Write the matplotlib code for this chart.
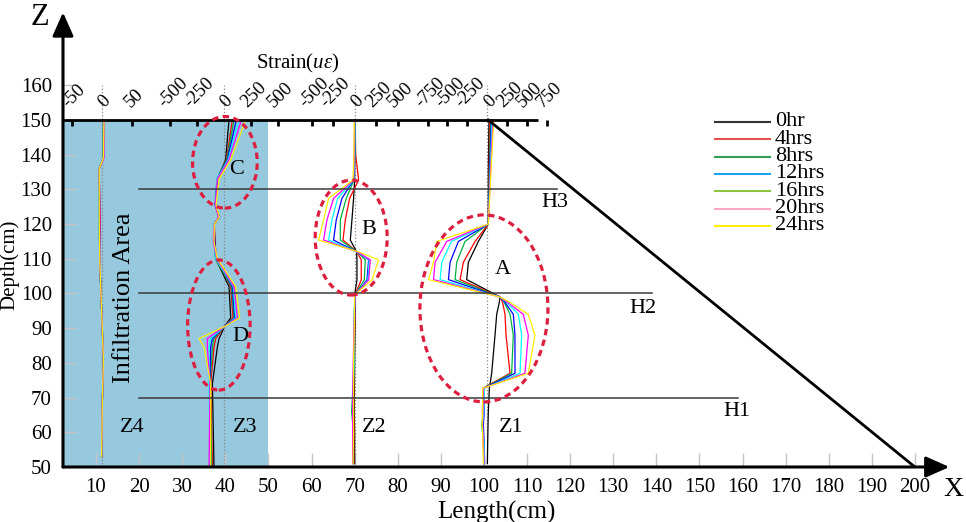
import matplotlib
matplotlib.use("Agg")
import matplotlib.pyplot as plt
import numpy as np
from matplotlib.lines import Line2D
from matplotlib.patches import Ellipse, Rectangle

plt.rcParams.update(
    {
        "font.family": "serif",
        "font.serif": ["Liberation Serif", "DejaVu Serif"],
        "mathtext.fontset": "custom",
        "mathtext.rm": "Liberation Serif",
        "mathtext.it": "Liberation Serif:italic",
    }
)

TIME_LABELS = ["0hr", "4hrs", "8hrs", "12hrs", "16hrs", "20hrs", "24hrs"]
CURVE_COLORS = ["black", "red", "#00b040", "blue", "cyan", "magenta", "#ffee00"]
LEGEND_COLORS = ["#333333", "#e8534b", "#2e9e57", "#1aa3e8", "#8cc63f", "#ffa6c9", "#ffee00"]

# depth (cm) of the sensing points, one list per column
Z4_DEPTH = [150, 139, 136, 122, 109, 95, 81, 67, 53]
Z3_DEPTH = [150, 138.5, 133, 125.5, 122, 120, 115, 110, 102, 93, 90.4, 87, 84.5, 74, 50]
Z2_DEPTH = [150, 140, 132.7, 127.4, 121.2, 115.4, 112, 109.7, 103.9, 99.6, 90, 80, 66, 60, 51]
Z1_DEPTH = [150, 135, 120, 115, 109, 104, 99, 97.5, 94, 88, 77, 72.7, 66, 62, 57, 51]

# strain (micro-strain), rows = 0hr .. 24hrs
Z4_STRAIN = [
    [3, 3, -4, -3, -3, 0, 3, 1, 0],
    [3, 3, -4, -3, -3, 0, 3, 1, 0],
    [3, 3, -4, -4, -3, 0, 3, 1, 0],
    [4, 3, -4, -4, -3, 0, 3, 1, 0],
    [3, 3, -4, -4, -3, 0, 3, 1, 0],
    [4, 4, -4, -3, -3, 0, 3, 1, 0],
    [4, 3, -4, -4, -3, 0, 3, 1, 0],
]
Z3_STRAIN = [
    [46, 15, -62, -77, -46, -93, -86, -77, 46, 62, 3, -46, -62, -108, -93],
    [77, 22, -62, -80, -50, -90, -83, -74, 62, 83, 0, -77, -93, -124, -108],
    [93, 25, -65, -77, -46, -96, -90, -80, 68, 93, -3, -93, -108, -130, -115],
    [114, 31, -65, -83, -40, -93, -86, -71, 77, 99, 0, -108, -124, -133, -124],
    [139, 37, -68, -77, -46, -99, -93, -77, 86, 108, 3, -124, -139, -139, -130],
    [161, 46, -62, -80, -50, -93, -99, -68, 93, 124, 0, -155, -155, -130, -139],
    [201, 62, -46, -74, -43, -90, -93, -62, 108, 145, 0, -232, -185, -124, -124],
]
Z2_STRAIN = [
    [0, 0, 0, -12, -31, -50, 23, 27, 27, 0, 4, 0, -4, 0, 0],
    [6, 12, 46, -58, -108, -135, 27, 77, 77, 4, 0, -8, -12, -8, -8],
    [4, 6, -8, -97, -166, -166, 27, 124, 112, 4, -8, -4, -35, -12, -12],
    [2, 2, -12, -147, -213, -244, 27, 163, 143, 8, -4, -12, -16, -16, -16],
    [4, 0, -10, -197, -263, -302, 27, 170, 155, 4, -12, -8, -20, -20, -20],
    [0, -4, -12, -244, -321, -360, 31, 182, 163, 4, -8, -16, -23, -23, -23],
    [-4, -8, -19, -302, -360, -418, 46, 279, 201, 0, -4, -12, -12, -12, -19],
]
Z1_STRAIN = [
    [20, 12, 12, -113, -238, -259, 158, 150, 117, 96, 54, 25, 12, 8, 4, 0],
    [30, 20, 12, -154, -300, -342, 158, 190, 221, 234, 284, -55, -62, -58, -50, -45],
    [40, 25, 12, -280, -384, -405, 158, 210, 284, 325, 304, -50, -50, -70, -45, -40],
    [50, 30, 12, -363, -467, -488, 158, 220, 325, 346, 346, -45, -40, -50, -40, -35],
    [60, 35, 12, -450, -571, -592, 158, 240, 388, 430, 409, -40, -45, -62, -42, -38],
    [70, 40, 12, -509, -655, -675, 158, 250, 450, 513, 471, -50, -55, -60, -50, -42],
    [80, 45, 12, -634, -675, -738, 158, 280, 513, 596, 513, -58, -60, -65, -55, -50],
]

# column zero position (cm), micro-strain per cm of length, top-axis tick values
COLUMNS = [
    ("Z4", 11.3, 7.2, Z4_DEPTH, Z4_STRAIN, [-50, 0, 50]),
    ("Z3", 39.7, 40.0, Z3_DEPTH, Z3_STRAIN, [-500, -250, 0, 250, 500]),
    ("Z2", 70.0, 50.0, Z2_DEPTH, Z2_STRAIN, [-500, -250, 0, 250, 500]),
    ("Z1", 100.8, 54.0, Z1_DEPTH, Z1_STRAIN, [-750, -500, -250, 0, 250, 500, 750]),
]

# horizontal reference lines: name, depth, end x, label position
H_LINES = [("H3", 130, 117, (116.5, 126.1)), ("H2", 100, 139, (136.9, 95.8)), ("H1", 70, 159, (158.7, 66.1))]
# dashed ellipses: label, centre, width, height, label position
ZONES = [
    ("A", (100.0, 95.7), 29.7, 53.9, (104.5, 106.8)),
    ("B", (69.2, 116.1), 16.7, 33.1, (73.4, 118.3)),
    ("C", (39.9, 137.8), 15.0, 26.4, (42.6, 135.6)),
    ("D", (38.5, 90.9), 14.5, 37.5, (43.4, 87.6)),
]

XMIN, XMAX, YMIN, YMAX = 2.34, 208, 50, 181
W, H = 966, 522

fig = plt.figure(figsize=(W / 100, H / 100), dpi=100)
ax = fig.add_axes([63 / W, 55 / H, (949.4 - 63) / W, (467 - 12.4) / H])
ax.set_xlim(XMIN, XMAX)
ax.set_ylim(YMIN, YMAX)
for s in ax.spines.values():
    s.set_visible(False)

ax.add_patch(Rectangle((XMIN, 50), 50 - XMIN, 100, facecolor="#96c8de", edgecolor="none", zorder=0))

ax.set_xticks(range(10, 201, 10))
ax.set_yticks(range(50, 161, 10))
ax.tick_params(direction="in", length=10, color="#c4c4c4", width=1, labelsize=15, pad=8)

# axes with arrows
arrow = dict(arrowstyle="-|>,head_length=0.9,head_width=0.4", lw=2.2, color="black",
             shrinkA=0, shrinkB=0, mutation_scale=16)
ax.annotate("", xy=(XMAX, 50), xytext=(XMIN, 50), arrowprops=arrow, annotation_clip=False, zorder=6)
ax.annotate("", xy=(XMIN, YMAX), xytext=(XMIN, 50), arrowprops=arrow, annotation_clip=False, zorder=6)
ax.text(-3.0, 179.4, "Z", fontsize=22, ha="center", va="center")
ax.text(209.0, 43.4, "X", fontsize=20, ha="center", va="center")
ax.text(103, 37.0, "Length(cm)", fontsize=18, ha="center", va="center")
ax.text(-10.0, 108.2, "Depth(cm)", fontsize=15, ha="center", va="center", rotation=90)

# top strain axis
ax.plot([XMIN, 112.5], [150, 150], color="black", lw=2, zorder=5, solid_capstyle="butt")
ax.text(56.9, 166.4, "Strain($u\u03b5$)", fontsize=15, ha="center", va="center")

for name, zero, per_cm, depth, strain, ticks in COLUMNS:
    ax.plot([zero, zero], [50, 160], color="#888888", lw=0.9, ls=":", zorder=1)
    for t in ticks:
        tx = zero + t / per_cm
        if t != 0:
            ax.plot([tx, tx], [150, 148.2], color="black", lw=2, zorder=5, solid_capstyle="butt")
        ax.text(tx + 0.6, 152.6, str(t), fontsize=13.5, rotation=45, ha="center", va="bottom")
    d = np.array(depth)
    for i in range(len(TIME_LABELS)):
        x = zero + np.array(strain[i]) / per_cm
        ax.plot(x, d, color=CURVE_COLORS[i], lw=0.9, zorder=3)

ax.text(18.5, 61.4, "Z4", fontsize=16, ha="center", va="center")
ax.text(44.6, 61.4, "Z3", fontsize=16, ha="center", va="center")
ax.text(74.5, 61.4, "Z2", fontsize=16, ha="center", va="center")
ax.text(106.4, 61.4, "Z1", fontsize=16, ha="center", va="center")
ax.text(16.4, 98.9, "Infiltration Area", fontsize=19, ha="center", va="center", rotation=90)

for name, y, x_end, (lx, ly) in H_LINES:
    ax.plot([20, x_end], [y, y], color="#3a3a3a", lw=1.1, zorder=4)
    ax.text(lx, ly, name, fontsize=16, ha="center", va="center")

ax.plot([101, 200], [150, 50], color="black", lw=2, zorder=4)

for name, c, w, h, (lx, ly) in ZONES:
    ax.add_patch(Ellipse(c, w, h, fill=False, edgecolor="#dc1f3f", lw=2.3,
                         ls=(0, (2, 1.4)), zorder=7))
    ax.text(lx, ly, name, fontsize=16, ha="center", va="center")

# legend
for i, (lab, col) in enumerate(zip(TIME_LABELS, LEGEND_COLORS)):
    y = 1 - (122 + i * 17.33) / H
    fig.add_artist(Line2D([715 / W, 770 / W], [y, y], color=col, lw=1.5))
    fig.text(775 / W, y, lab, fontsize=16, ha="left", va="center")

fig.savefig("out.png", dpi=100)
